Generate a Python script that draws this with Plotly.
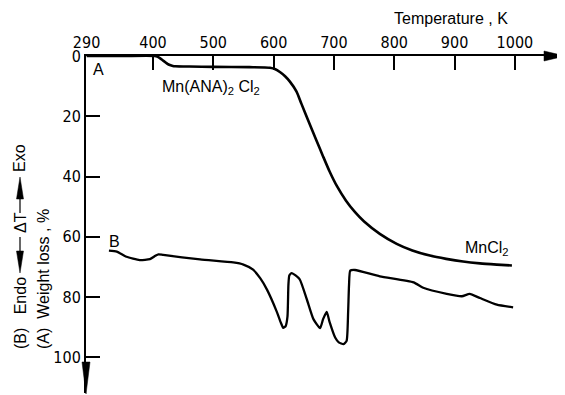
import plotly.graph_objects as go

# ---- data ----
tick_vals_x = [290, 400, 500, 600, 700, 800, 900, 1000]
tick_text_x = ["290", "400", "500", "600", "700", "800", "900", "1000"]
tick_vals_y = [0, 20, 40, 60, 80, 100]
tick_text_y = ["0", "20", "40", "60", "80", "100"]

tg_T = [290, 350, 403, 408, 412, 416, 420, 424, 428, 433, 437, 460, 500, 560,
        594, 603, 611, 619, 627, 638, 646, 657, 671, 682, 693, 705, 720, 735,
        750, 776, 804, 830, 859, 886, 914, 942, 970, 995]
tg_W = [0, 0, 0, 0.3, 0.8, 1.4, 2.0, 2.6, 3.0, 3.3, 3.4, 3.5, 3.6, 3.7,
        3.9, 4.4, 5.4, 6.7, 8.5, 11.8, 15.8, 21.2, 28.0, 33.3, 38.4, 43.2, 48.0, 51.8,
        54.9, 59.0, 62.3, 64.5, 66.2, 67.3, 68.2, 68.8, 69.2, 69.5]

dta_T = [327, 340, 356, 378, 395, 404, 409, 417, 478, 533, 550, 566, 578, 589,
         605, 612, 616, 620, 623, 624.5, 626, 630, 643, 655, 666, 677, 682, 688,
         693, 702, 708, 716, 721, 723.5, 725, 727, 735, 776, 832, 848, 887, 912,
         925, 942, 970, 997]
dta_V = [64.6, 64.9, 66.6, 67.7, 67.4, 66.3, 65.8, 66.0, 67.5, 68.5, 69.2, 70.9, 73.8, 77.5,
         84.7, 88.5, 90.2, 89.6, 86.4, 76.0, 72.8, 72.0, 74.0, 80.7, 87.3, 90.3, 87.3, 84.9,
         88.4, 93.4, 95.0, 95.6, 94.5, 85.0, 76.0, 71.2, 71.0, 73.1, 75.1, 76.9, 78.9, 79.7,
         78.9, 80.3, 82.5, 83.4]

# page has an 8px body margin; figure is sized to end exactly at the window edge
OFF = 8
W, H = 565 - OFF, 395 - OFF
ML, MT, MR, MB = 86 - OFF, 56 - OFF, 0, 2
PW, PH = W - ML - MR, H - MT - MB

def xp(px):
    return (px - OFF - ML) / PW

def yp(py):
    return 1 - (py - OFF - MT) / PH

FONT = "Liberation Sans"
NARROW = "Liberation Sans Narrow, DejaVu Sans Condensed, Liberation Sans"

fig = go.Figure()
fig.add_trace(go.Scatter(x=tg_T, y=tg_W, mode="lines",
                         line=dict(color="black", width=2.6, shape="spline", smoothing=0.6),
                         showlegend=False, hoverinfo="skip"))
fig.add_trace(go.Scatter(x=dta_T, y=dta_V, mode="lines",
                         line=dict(color="black", width=2.3, shape="spline", smoothing=0.5),
                         showlegend=False, hoverinfo="skip"))

shapes = []
# x-axis arrowhead
shapes.append(dict(type="path", xref="paper", yref="paper",
                   path=f"M {xp(565)},{yp(56)} L {xp(544)},{yp(51)} L {xp(544)},{yp(61)} Z",
                   fillcolor="black", line=dict(color="black", width=0.5)))
# y-axis arrowhead
shapes.append(dict(type="path", xref="paper", yref="paper",
                   path=f"M {xp(86)},{yp(394)} L {xp(82)},{yp(362)} L {xp(90)},{yp(362)} Z",
                   fillcolor="black", line=dict(color="black", width=0.5)))
# arrows in y title (Endo <- dT -> Exo)
AX = 20
shapes.append(dict(type="line", xref="paper", yref="paper",
                   x0=xp(AX), x1=xp(AX), y0=yp(237), y1=yp(256),
                   line=dict(color="black", width=1.2)))
shapes.append(dict(type="path", xref="paper", yref="paper",
                   path=f"M {xp(AX)},{yp(273)} L {xp(AX-3.5)},{yp(251)} L {xp(AX+3.5)},{yp(251)} Z",
                   fillcolor="black", line=dict(color="black", width=0.5)))
shapes.append(dict(type="line", xref="paper", yref="paper",
                   x0=xp(AX), x1=xp(AX), y0=yp(213), y1=yp(196),
                   line=dict(color="black", width=1.2)))
shapes.append(dict(type="path", xref="paper", yref="paper",
                   path=f"M {xp(AX)},{yp(177)} L {xp(AX-3.5)},{yp(199)} L {xp(AX+3.5)},{yp(199)} Z",
                   fillcolor="black", line=dict(color="black", width=0.5)))

annotations = [
    dict(text="Temperature , K", xref="paper", yref="paper", x=xp(451), y=yp(18),
         showarrow=False, xanchor="center", yanchor="middle", font=dict(size=16)),
    dict(text="A", x=310.5, y=4.6, xref="x", yref="y", showarrow=False,
         xanchor="center", yanchor="middle", font=dict(size=16)),
    dict(text="Mn(ANA)<sub>2</sub> Cl<sub>2</sub>", x=496, y=10.3, xref="x", yref="y",
         showarrow=False, xanchor="center", yanchor="middle", font=dict(size=16)),
    dict(text="MnCl<sub>2</sub>", x=953, y=64.0, xref="x", yref="y",
         showarrow=False, xanchor="center", yanchor="middle", font=dict(size=16)),
    dict(text="B", x=337, y=61.6, xref="x", yref="y", showarrow=False,
         xanchor="center", yanchor="middle", font=dict(size=16)),
    # y titles
    dict(text="(A)  Weight loss , %", xref="paper", yref="paper", x=xp(43), y=yp(351),
         textangle=-90, showarrow=False, xanchor="center", yanchor="bottom",
         font=dict(size=16)),
    dict(text="(B)   Endo", xref="paper", yref="paper", x=xp(20), y=yp(351),
         textangle=-90, showarrow=False, xanchor="center", yanchor="bottom",
         font=dict(size=16)),
    dict(text="ΔT", xref="paper", yref="paper", x=xp(20), y=yp(223),
         textangle=-90, showarrow=False, xanchor="center", yanchor="middle",
         font=dict(size=16)),
    dict(text="Exo", xref="paper", yref="paper", x=xp(20), y=yp(142),
         textangle=-90, showarrow=False, xanchor="center", yanchor="top",
         font=dict(size=16)),
]

fig.update_layout(
    width=W, height=H,
    margin=dict(l=ML, r=MR, t=MT, b=MB, pad=0),
    paper_bgcolor="white", plot_bgcolor="white",
    font=dict(family=FONT, color="black", size=16),
    shapes=shapes, annotations=annotations,
    xaxis=dict(range=[289.0, 1083.0], side="top", showline=True, linecolor="black",
               linewidth=2, ticks="inside", ticklen=14, tickwidth=1.5, tickcolor="black",
               tickvals=tick_vals_x, ticktext=tick_text_x, showgrid=False, zeroline=False,
               tickfont=dict(family=NARROW, size=16), fixedrange=True),
    yaxis=dict(range=[111.8, 0], showline=True, linecolor="black",
               linewidth=2, ticks="inside", ticklen=14, tickwidth=1.5, tickcolor="black",
               tickvals=tick_vals_y, ticktext=tick_text_y, showgrid=False, zeroline=False,
               tickfont=dict(family=NARROW, size=16), fixedrange=True),
)

fig.write_html("out.html")
